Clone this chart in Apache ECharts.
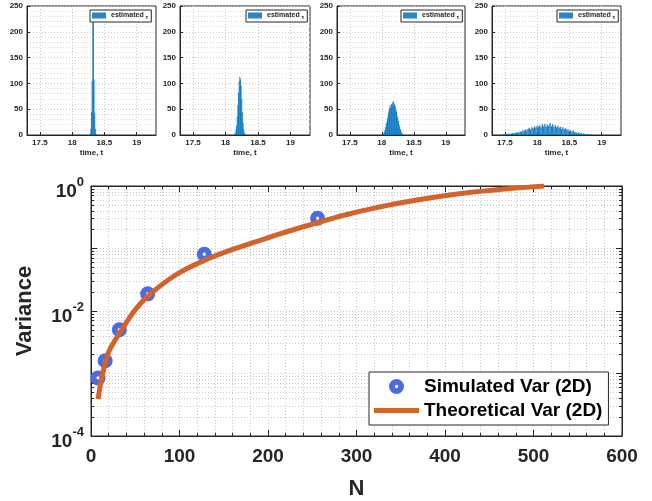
<!DOCTYPE html>
<html>
<head>
<meta charset="utf-8">
<script src="https://cdn.jsdelivr.net/npm/echarts@6/dist/echarts.min.js"></script>
<style>
html,body{margin:0;padding:0;background:#fff;}
#c{width:652px;height:501px;}
</style>
</head>
<body>
<div id="c"></div>
<script>
// ---------- data ----------
const simN = [8, 16, 32, 64, 128, 256];
const simVar = [8.5e-4, 1.6e-3, 5.0e-3, 0.0188, 0.081, 0.305];
const theoN = [8, 10, 12, 16, 20, 24, 32, 48, 64, 96, 128, 160, 192, 224, 256, 288, 320, 352, 384, 416, 448, 480, 512];
const theoVar = [3.89e-4, 5.89e-4, 8.32e-4, 1.445e-3, 2.21e-3, 2.85e-3, 4.37e-3, 9.66e-3, 0.0172, 0.038, 0.0646, 0.0966, 0.1365, 0.1905, 0.26, 0.347, 0.442, 0.543, 0.649, 0.75, 0.843, 0.925, 1.0];

const xTickLabels = [0, 100, 200, 300, 400, 500, 600];
const histTickLabels = [17.5, 18, 18.5, 19];

const hist1Start = 18.28, hist1Bin = 0.01;
const hist1Counts = [3, 12, 45, 105, 222, 218, 108, 42, 12, 3];
const hist2Start = 18.14, hist2Bin = 0.01;
const hist2Counts = [2, 4, 9, 18, 35, 58, 82, 104, 113, 108, 96, 70, 44, 24, 12, 5, 2];
const hist3Start = 18.02, hist3Bin = 0.01;
const hist3Counts = [1, 3, 6, 10, 15, 22, 26, 33, 40, 46, 52, 58, 53, 60, 56, 63, 66, 58, 61, 55, 50, 45, 38, 33, 27, 21, 16, 11, 8, 5, 3, 2, 1];
const hist4Start = 17.44, hist4Bin = 0.02;
const hist4Counts = [1, 0, 2, 1, 2, 1, 3, 2, 3, 4, 3, 5, 4, 6, 5, 7, 6, 9, 8, 11, 9, 12, 14, 11, 15, 13, 17, 14, 18, 16, 19, 15, 21, 17, 22, 16, 20, 18, 23, 17, 21, 16, 19, 15, 18, 14, 16, 12, 15, 11, 13, 10, 11, 8, 9, 7, 8, 5, 6, 4, 5, 3, 4, 2, 3, 2, 1, 2, 1, 0, 1];

const histLegendName = 'estimated \u03c4';
const simName = 'Simulated Var (2D)';
const theoName = 'Theoretical Var (2D)';

// ---------- styles ----------
const FONT = '"Liberation Sans", Arial, Helvetica, sans-serif';
const AX = '#262626';
const GRIDC = '#c9c9c9';
const BAR = '#0072BD';
const ORANGE = '#D4622B';
const BLUE = '#4A6BE2';
const RING = 'path://M0,7.5A7.5,7.5,0,1,0,15,7.5A7.5,7.5,0,1,0,0,7.5ZM5.8,7.5A1.7,1.7,0,1,1,9.2,7.5A1.7,1.7,0,1,1,5.8,7.5Z';
const BARICON = 'path://M0,0L45,0L45,5L0,5Z';

const hists = [
  {start: hist1Start, bin: hist1Bin, counts: hist1Counts, left: 27, width: 129, legLeft: 90},
  {start: hist2Start, bin: hist2Bin, counts: hist2Counts, left: 180, width: 130, legLeft: 246},
  {start: hist3Start, bin: hist3Bin, counts: hist3Counts, left: 337, width: 128, legLeft: 401},
  {start: hist4Start, bin: hist4Bin, counts: hist4Counts, left: 492, width: 129, legLeft: 557}
];

const grids = [], xAxes = [], yAxes = [], series = [], legends = [];

hists.forEach((h, i) => {
  grids.push({left: h.left, top: 6, width: h.width, height: 129, show: true,
    borderColor: AX, borderWidth: 1, backgroundColor: '#fff'});
  xAxes.push({
    gridIndex: i, type: 'value', min: 17.3, max: 19.3, interval: 0.1,
    name: 'time, t', nameLocation: 'middle', nameGap: 14,
    nameTextStyle: {fontFamily: FONT, fontWeight: 'bold', fontSize: 8, color: AX},
    axisLine: {show: true, onZero: false, lineStyle: {color: AX, width: 1}},
    axisTick: {show: true, inside: true, length: 3, customValues: histTickLabels, lineStyle: {color: AX}},
    axisLabel: {customValues: histTickLabels, fontFamily: FONT, fontWeight: 'bold', fontSize: 8, color: AX, margin: 4,
      formatter: v => String(v)},
    splitLine: {show: true, lineStyle: {color: GRIDC, type: [1, 2], width: 1}}
  });
  yAxes.push({
    gridIndex: i, type: 'value', min: 0, max: 250, interval: 50,
    axisLine: {show: true, lineStyle: {color: AX, width: 1}},
    axisTick: {show: true, inside: true, length: 3, lineStyle: {color: AX}},
    axisLabel: {fontFamily: FONT, fontWeight: 'bold', fontSize: 8, color: AX, margin: 4},
    splitLine: {show: true, lineStyle: {color: GRIDC, type: [1, 2], width: 1}},
    minorTick: {show: false, splitNumber: 5},
    minorSplitLine: {show: true, lineStyle: {color: '#dddddd', type: [1, 2], width: 1}}
  });
  series.push({
    name: histLegendName, type: 'bar', xAxisIndex: i, yAxisIndex: i,
    barWidth: h.bin === 0.01 ? 1 : 1.4,
    itemStyle: {color: BAR, opacity: 0.85},
    data: h.counts.map((c, k) => [+(h.start + k * h.bin).toFixed(3), c]),
    animation: false
  });
  legends.push({
    data: [{name: histLegendName, icon: 'rect'}], left: h.legLeft, top: 10, orient: 'vertical',
    itemWidth: 14, itemHeight: 6, padding: [2, 3, 2, 2],
    backgroundColor: '#fff', borderColor: AX, borderWidth: 1, borderRadius: 0,
    selectedMode: false,
    formatter: () => 'estimated {t|\u03c4}',
    textStyle: {fontFamily: FONT, fontWeight: 'bold', fontSize: 7, color: AX,
      rich: {t: {fontFamily: FONT, fontWeight: 'bold', fontSize: 6, color: AX, padding: [3, 0, 0, 0]}}}
  });
});

// main chart
grids.push({left: 91, top: 186, width: 531, height: 250.5, show: true, borderColor: AX, borderWidth: 1, backgroundColor: '#fff'});
const gi = 4;
xAxes.push({
  gridIndex: gi, type: 'value', min: 0, max: 600, interval: 100,
  name: 'N', nameLocation: 'middle', nameGap: 42,
  nameTextStyle: {fontFamily: FONT, fontWeight: 'bold', fontSize: 22, color: AX},
  axisLine: {show: true, onZero: false, lineStyle: {color: AX, width: 1}},
  axisTick: {show: true, inside: true, length: 6, lineStyle: {color: AX}},
  minorTick: {show: true, splitNumber: 5, length: 3, lineStyle: {color: AX}},
  axisLabel: {customValues: xTickLabels, fontFamily: FONT, fontWeight: 'bold', fontSize: 19, color: AX, margin: 11},
  splitLine: {show: true, lineStyle: {color: GRIDC, type: [1, 2], width: 1}},
  minorSplitLine: {show: true, lineStyle: {color: GRIDC, type: [1, 2], width: 1}}
});
xAxes.push({
  gridIndex: gi, type: 'value', min: 0, max: 600, interval: 100, position: 'top',
  axisLine: {show: true, onZero: false, lineStyle: {color: AX, width: 1}},
  axisTick: {show: true, inside: true, length: 6, lineStyle: {color: AX}},
  minorTick: {show: true, splitNumber: 5, length: 3, lineStyle: {color: AX}},
  axisLabel: {show: false}, splitLine: {show: false}
});
const logLabel = v => {
  const e = Math.round(Math.log10(v));
  if (e % 2 !== 0) return '';
  return '{b|10}{s|' + e + '}';
};
yAxes.push({
  gridIndex: gi, type: 'log', logBase: 10, min: 1e-4, max: 1,
  name: 'Variance', nameLocation: 'middle', nameGap: 55, nameRotate: 90,
  nameTextStyle: {fontFamily: FONT, fontWeight: 'bold', fontSize: 22, color: AX},
  axisLine: {show: true, onZero: false, lineStyle: {color: AX, width: 1}},
  axisTick: {show: true, inside: true, length: 6, lineStyle: {color: AX}},
  minorTick: {show: true, splitNumber: 9, length: 3, lineStyle: {color: AX}},
  axisLabel: {formatter: logLabel, margin: 7, color: AX, padding: [5, 0, 0, 0],
    rich: {
      b: {fontFamily: FONT, fontWeight: 'bold', fontSize: 19, color: AX, verticalAlign: 'bottom', lineHeight: 25},
      s: {fontFamily: FONT, fontWeight: 'bold', fontSize: 13, color: AX, verticalAlign: 'top', lineHeight: 13}
    }},
  splitLine: {show: true, lineStyle: {color: GRIDC, type: [1, 2], width: 1}},
  minorSplitLine: {show: true, lineStyle: {color: GRIDC, type: [1, 2], width: 1}}
});
yAxes.push({
  gridIndex: gi, type: 'log', logBase: 10, min: 1e-4, max: 1, position: 'right',
  axisLine: {show: true, onZero: false, lineStyle: {color: AX, width: 1}},
  axisTick: {show: true, inside: true, length: 6, lineStyle: {color: AX}},
  minorTick: {show: true, splitNumber: 9, length: 3, lineStyle: {color: AX}},
  axisLabel: {show: false}, splitLine: {show: false}
});

series.push({
  name: simName, type: 'scatter', xAxisIndex: 4, yAxisIndex: 4,
  symbol: RING, symbolSize: 15, z: 3,
  itemStyle: {color: BLUE, opacity: 1},
  data: simN.map((n, k) => [n, simVar[k]]),
  animation: false
});
series.push({
  name: theoName, type: 'line', xAxisIndex: 4, yAxisIndex: 4,
  symbol: 'none', smooth: 0.25, z: 4,
  lineStyle: {color: ORANGE, width: 5, cap: 'butt'},
  itemStyle: {color: ORANGE},
  data: theoN.map((n, k) => [n, theoVar[k]]),
  animation: false
});

legends.push({
  data: [{name: simName, icon: RING}, {name: theoName, icon: BARICON}],
  left: 369, top: 372, orient: 'vertical',
  itemWidth: 45, itemHeight: 15, itemGap: 5, padding: [5, 6, 5, 5],
  backgroundColor: '#fff', borderColor: AX, borderWidth: 1, borderRadius: 0,
  selectedMode: false,
  textStyle: {fontFamily: FONT, fontWeight: 'bold', fontSize: 19, color: '#000'}
});

const chart = echarts.init(document.getElementById('c'), null, {renderer: 'canvas'});
chart.setOption({
  backgroundColor: '#ffffff',
  animation: false,
  grid: grids, xAxis: xAxes, yAxis: yAxes, series: series, legend: legends
});
</script>
</body>
</html>
